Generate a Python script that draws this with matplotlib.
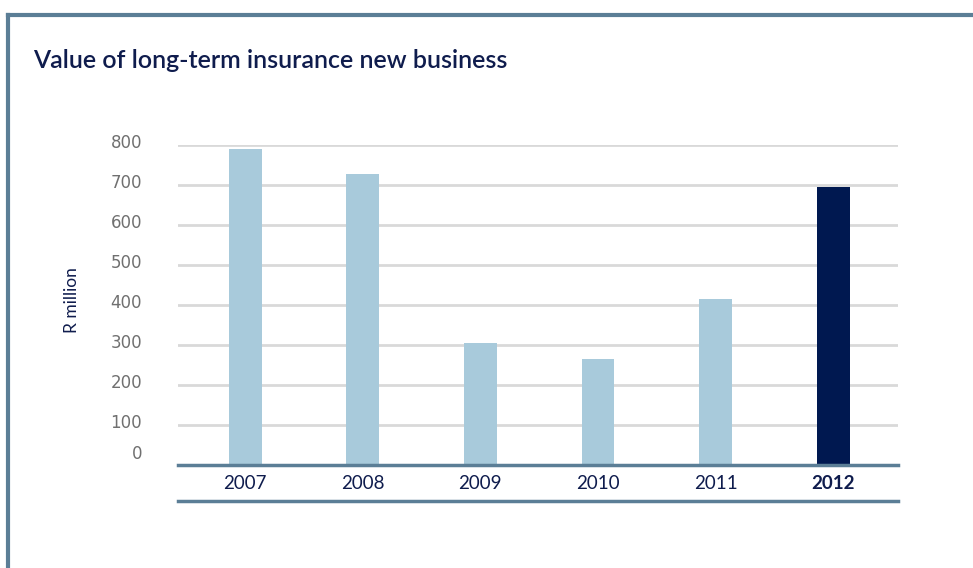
import matplotlib
matplotlib.use("Agg")
import matplotlib.pyplot as plt
from matplotlib.lines import Line2D
from matplotlib.transforms import ScaledTranslation

years = ["2007", "2008", "2009", "2010", "2011", "2012"]
values = [790, 727, 305, 265, 415, 695]
yticks = [0, 100, 200, 300, 400, 500, 600, 700, 800]

W, H, DPI = 973, 568, 100
plt.rcParams['font.family'] = ['Lato', 'DejaVu Sans']
fig = plt.figure(figsize=(W / DPI, H / DPI), dpi=DPI)

navy = "#0f1c4d"
light = "#a8cadb"
dark = "#001850"
frame = "#5b7e96"
grid = "#d9d9d9"

ax = fig.add_axes([178 / W, (H - 465) / H, 720 / W, 320 / H])
x = list(range(len(years)))
colors = [light] * (len(years) - 1) + [dark]
ax.bar(x, values, width=0.28, color=colors, zorder=3)
ax.set_xlim(-0.57, 5.55)
ax.set_ylim(0, 800)
ax.set_yticks(yticks)
ax.set_yticklabels([str(v) for v in yticks])
ax.yaxis.grid(True, color=grid, linewidth=2, zorder=0)
ax.set_axisbelow(True)
for s in ["top", "right", "left"]:
    ax.spines[s].set_visible(False)
ax.spines["bottom"].set_color(frame)
ax.spines["bottom"].set_linewidth(2.5)
ax.spines["bottom"].set_zorder(4)
ax.tick_params(axis="y", length=0, pad=26, labelsize=12, labelcolor="#707070")
ax.tick_params(axis="x", length=0, pad=7, labelsize=13.5, labelcolor=navy)
ax.set_xticks(x)
ax.set_xticklabels(years)
for lab in ax.get_yticklabels():
    lab.set_family(["DejaVu Sans"])
    lab.set_va("center")
    lab.set_transform(lab.get_transform() + ScaledTranslation(0, 2 / DPI, fig.dpi_scale_trans))
ylabs = ax.get_yticklabels()
ylabs[0].set_transform(ylabs[0].get_transform() + ScaledTranslation(0, 9 / DPI, fig.dpi_scale_trans))
ax.get_xticklabels()[-1].set_fontweight("bold")

fig.text(72 / W, 1 - 300 / H, "R million", color=navy, fontsize=12.5,
         rotation=90, ha="center", va="center")

fig.text(33 / W, 1 - 60 / H, "Value of long-term insurance new business",
         fontsize=18, fontweight="semibold", color=navy, va="center", ha="left")

# frame lines
fig.add_artist(Line2D([8 / W, 1], [1 - 15 / H, 1 - 15 / H], color=frame, lw=3, transform=fig.transFigure))
fig.add_artist(Line2D([8 / W, 8 / W], [1 - 15 / H, 0], color=frame, lw=3, transform=fig.transFigure))
# bottom rule under x labels
fig.add_artist(Line2D([178 / W, 898 / W], [1 - 501 / H, 1 - 501 / H], color=frame, lw=2.5, transform=fig.transFigure))

fig.savefig("out.png", dpi=DPI)
